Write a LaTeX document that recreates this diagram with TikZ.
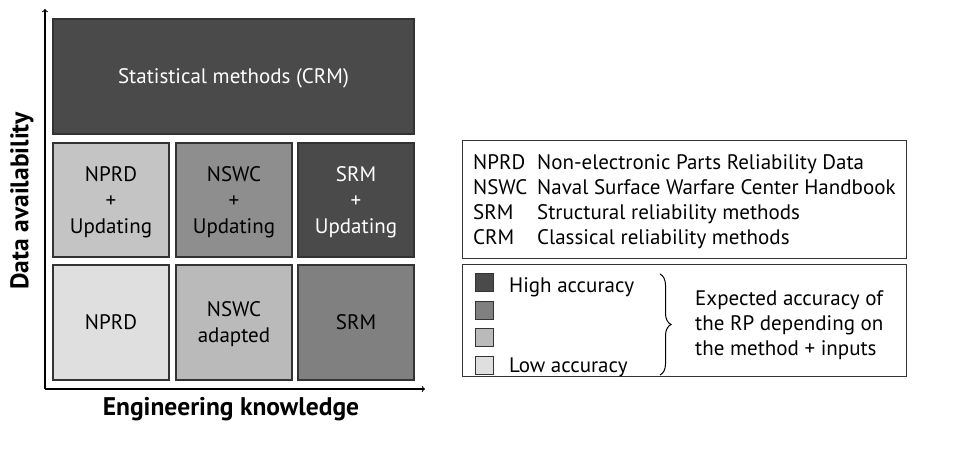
\documentclass[tikz,border=0pt]{standalone}
\usepackage{fontspec}
\setmainfont{PT Sans}
\usetikzlibrary{decorations.pathreplacing,calc}
\definecolor{cA}{HTML}{4A4A4A}
\definecolor{cB}{HTML}{808080}
\definecolor{cC}{HTML}{BABABA}
\definecolor{cD}{HTML}{DFDFDF}
\definecolor{cE}{HTML}{8E8E8E}
\definecolor{cF}{HTML}{C4C4C4}
\definecolor{bord}{HTML}{333333}
\tikzset{
  cell/.style={draw=bord, line width=1.2pt, inner sep=0pt, align=center, font=\fontsize{21}{26}\selectfont, text depth=-4pt},
  axislabel/.style={font=\bfseries\fontsize{25.5}{30}\selectfont},
  legtext/.style={font=\fontsize{21}{25}\selectfont, inner sep=0pt},
  swatch/.style={draw=bord, line width=1pt, minimum width=18pt, minimum height=18pt, inner sep=0pt},
  frame/.style={draw=black!80, line width=1pt}
}
\begin{document}
\begin{tikzpicture}[x=1pt,y=-1pt]
\useasboundingbox (0,0) rectangle (969,467);
% cells
\node[cell, fill=cA, text=white, minimum width=361pt, minimum height=115pt] (crm) at (233.5,76.5) {Statistical methods (CRM)};
\node[cell, fill=cF, minimum width=116pt, minimum height=114pt] (nprdu) at (111,200) {NPRD\\+\\Updating};
\node[cell, fill=cE, minimum width=116pt, minimum height=114pt] (nswcu) at (234,200) {NSWC\\+\\Updating};
\node[cell, fill=cA, text=white, minimum width=116pt, minimum height=114pt] (srmu) at (356,200) {SRM\\+\\Updating};
\node[cell, fill=cD, minimum width=116pt, minimum height=115pt] (nprd) at (111,322.5) {NPRD};
\node[cell, fill=cC, minimum width=116pt, minimum height=115pt] (nswc) at (234,322.5) {NSWC\\adapted};
\node[cell, fill=cB, minimum width=116pt, minimum height=115pt] (srm) at (356,322.5) {SRM};
% axes
\coordinate (o) at (45,389);
\coordinate (ytop) at (45,9);
\coordinate (xend) at (425,389);
\draw[line width=1.1pt, ->, >=to] (o) -- (ytop);
\draw[line width=1.1pt, ->, >=to] (o) -- (xend);
\node[axislabel] (xl) at (231,409) {Engineering knowledge};
\node[axislabel, rotate=90] (yl) at (22,201) {Data availability};
% legend 1
\node[frame, minimum width=444pt, minimum height=118pt, inner sep=0pt] (leg1) at (684,199) {};
\foreach \i/\a/\d in {0/NPRD/Non-electronic Parts Reliability Data,1/NSWC/Naval Surface Warfare Center Handbook,2/SRM/Structural reliability methods,3/CRM/Classical reliability methods}{
  \node[legtext, anchor=base west] (ab\i) at (473,169+25.3*\i) {\a};
  \node[legtext, anchor=base west] (de\i) at (537,169+25.3*\i) {\d};
}
% legend 2
\node[frame, minimum width=444pt, minimum height=112pt, inner sep=0pt] (leg2) at (684,320) {};
\node[swatch, fill=cA] (s1) at (484.5,282.5) {};
\node[swatch, fill=cB] (s2) at (484.5,310) {};
\node[swatch, fill=cC] (s3) at (484.5,337.5) {};
\node[swatch, fill=cD] (s4) at (484.5,365) {};
\node[legtext, anchor=base west] (hi) at (509,292) {High accuracy};
\node[legtext, anchor=base west] (lo) at (509,372) {Low accuracy};
\coordinate (bt) at (660,274);
\coordinate (bb) at (660,375);
\draw[line width=1pt, decorate, decoration={brace, amplitude=11pt}] (bt) -- (bb);
\node[legtext, anchor=west, align=left] (exp) at (695,325) {Expected accuracy of\\the RP depending on\\the method + inputs};
\end{tikzpicture}
\end{document}
